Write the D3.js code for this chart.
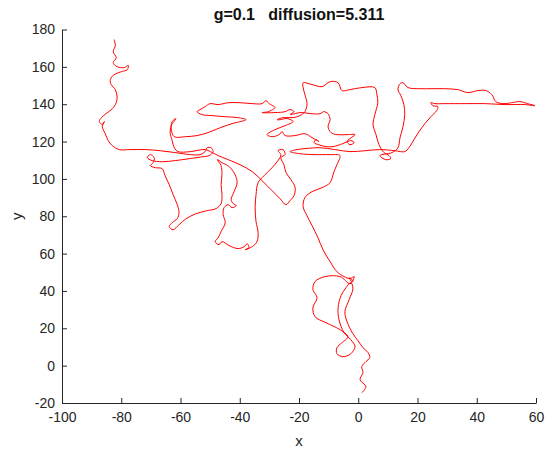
<!DOCTYPE html>
<html>
<head>
<meta charset="utf-8">
<script src="https://cdn.jsdelivr.net/npm/d3@7"></script>
<style>
  html, body { margin: 0; padding: 0; background: #fff; }
  svg { display: block; font-family: "Liberation Sans", Arial, Helvetica, sans-serif; }
</style>
</head>
<body>
<svg id="chart" width="555" height="455"></svg>
<script>
// Labels and ticks
const chartTitle = "g=0.1   diffusion=5.311";
const xLabel = "x";
const yLabel = "y";
const xTicks = [-100, -80, -60, -40, -20, 0, 20, 40, 60];
const yTicks = [-20, 0, 20, 40, 60, 80, 100, 120, 140, 160, 180];

// Random-walk trajectory samples (x, y)
const walkX = [
  -82.4, -82.0, -82.7, -81.7, -82.7, -81.4, -79.0, -77.6, -78.0, -80.0, -82.4, -83.7, -83.4, -82.0, -81.4, -81.7,
  -83.0, -85.1, -86.7, -87.4, -86.4, -85.7, -86.4, -85.4, -84.4, -83.0, -80.7, -77.0, -71.9, -66.9, -61.8, -56.7,
  -53.4, -51.7, -51.0, -49.7, -49.0, -50.3, -52.4,
  -56.7, -61.8, -66.2, -69.6, -71.2, -70.2, -68.9, -69.2, -70.2, -68.5, -66.2, -65.2, -63.8, -62.5, -61.1, -60.5,
  -61.1, -62.8, -63.8, -62.5, -60.5, -58.1, -54.7, -51.0, -48.0, -46.3, -46.0, -46.3, -46.0, -46.3, -47.6, -46.0,
  -43.6, -41.6, -40.9, -41.9, -42.9, -42.2, -41.2, -42.6, -43.9, -45.3, -45.6, -44.9, -46.3, -47.3, -48.3, -47.0,
  -46.0, -43.6, -40.6, -38.5, -37.5, -36.9, -38.2, -35.8, -34.2, -33.8, -34.5, -34.8, -34.5, -33.8, -31.8, -29.1,
  -27.1, -26.1, -27.1, -25.4, -24.7, -26.1,
  -25.1, -24.4, -22.7, -21.3, -21.7, -23.0, -24.4, -26.4, -29.1, -32.5, -35.8, -39.9, -43.9, -47.3, -49.3,
  -51.7, -56.7, -60.8, -62.1, -62.8, -63.5, -63.1, -61.5, -62.8, -63.1, -62.1, -58.4, -54.4, -50.7, -46.6, -42.6,
  -37.9, -40.6, -44.9, -49.3, -52.7, -54.4, -53.4, -51.7, -50.0, -47.3, -43.9, -39.9, -35.8, -32.5, -31.1, -30.1,
  -28.1, -30.4, -32.5, -28.1, -24.7, -23.0, -21.7, -23.0, -19.7, -15.6, -12.9, -11.6, -10.2, -9.5, -10.2, -9.2,
  -7.2, -3.8, -1.1, -2.8, -3.8, -2.8, -1.4, -2.5, -5.2, -8.5, -10.9, -13.3, -14.9, -14.3, -13.3, -15.6,
  -18.0, -21.3, -24.7, -25.7, -26.7, -29.1, -30.8, -28.1, -24.7, -22.0, -24.0, -26.4, -27.4, -25.4, -22.0, -19.7,
  -18.0, -17.3, -18.0, -18.6, -18.6,
  -15.6, -12.2, -9.5, -6.8, -5.5, -2.8, 1.2, 5.6, 6.3, 6.6, 5.6, 5.0, 6.0, 7.0, 8.7, 10.4,
  11.0, 9.3, 7.3, 11.4, 13.4, 14.1, 15.1, 15.7, 15.4, 14.4, 13.4, 14.1, 15.1, 16.8, 20.8, 25.2,
  29.2, 33.6, 37.0, 40.4, 43.1, 45.1, 46.4, 48.8, 51.8, 54.5, 57.2, 59.6, 56.2, 49.5, 42.7, 36.0,
  29.2, 25.9, 24.5, 25.2, 26.9, 26.5, 24.5, 22.5, 20.5, 18.8, 17.1, 15.7,
  12.4, 7.3, 2.3, -2.8, -7.9, -12.9, -18.0, -20.7, -23.0, -19.7, -14.6, -9.5, -6.2, -7.2, -8.2, -9.5,
  -12.2, -15.6, -18.0, -18.6, -17.3, -15.6, -13.6, -11.9, -9.5, -7.2, -4.8, -2.8, -1.4, -2.1, -3.1, -1.8, -2.8,
  -6.2, -11.2, -14.6, -15.3, -13.9, -15.3, -14.6, -10.9, -6.2, -3.5, -5.5, -7.2, -7.2, -5.2, -2.5, -1.1,
  -2.5, -4.8, -6.5, -6.8, -5.8, -4.1, -2.5, -1.8, -3.1, -4.5, -3.8, -1.8, -0.1, 1.6, 3.3, 3.9,
  2.6, 1.2, 1.6, 0.6, 2.6, 1.2
];
const walkY = [
  174.6, 171.4, 168.1, 164.9, 162.3, 160.1, 159.6, 160.7, 158.5, 157.4, 155.8, 153.2, 150.5, 147.8, 144.0, 140.8,
  137.6, 135.0, 132.8, 130.7, 129.1, 130.7, 128.0, 124.2, 120.5, 117.8, 115.7, 115.7, 115.7, 115.1, 114.1, 113.0,
  113.0, 114.6, 116.7, 116.7, 114.6, 112.5, 111.9,
  110.9, 109.8, 109.2, 109.8, 111.4, 113.0, 111.4, 108.7, 107.1, 106.0, 105.5, 101.7, 96.9, 91.6, 86.2, 81.9,
  78.7, 76.6, 74.4, 72.8, 75.5, 78.7, 81.4, 83.0, 84.1, 86.8, 91.6, 96.9, 102.3, 107.1, 110.3, 108.7,
  106.6, 102.3, 98.0, 93.2, 88.9, 86.8, 85.7, 84.6, 86.2, 84.6, 80.9, 76.6, 71.8, 68.5, 66.4, 64.8,
  66.4, 64.3, 62.7, 63.7, 65.3, 63.2, 62.1, 63.7, 66.4, 71.2, 77.1, 84.6, 91.6, 98.0, 101.7, 106.0,
  109.8, 113.0, 115.1, 115.7, 113.0, 111.4,
  107.6, 103.4, 99.6, 95.3, 91.0, 88.4, 86.2, 89.4, 93.7, 99.1, 103.9, 107.6, 110.3, 112.5, 114.1,
  115.7, 114.6, 114.6, 116.7, 120.5, 124.8, 128.5, 132.3, 130.7, 126.4, 122.6, 122.6, 123.2, 124.8, 127.4, 129.6,
  131.7, 132.8, 133.3, 133.9, 134.4, 136.0, 137.1, 138.7, 140.3, 139.8, 140.8, 140.8, 140.3, 140.3, 141.9, 140.3,
  138.2, 136.0, 135.5, 135.5, 136.0, 137.1, 136.0, 134.4, 135.5, 134.9, 134.9, 136.0, 134.9, 131.7, 128.0, 124.8,
  123.7, 123.7, 123.7, 121.6, 120.0, 118.3, 119.4, 120.5, 118.9, 117.3, 117.3, 118.3, 119.4, 121.0, 120.0, 122.1,
  124.2, 123.2, 123.2, 125.3, 123.7, 122.6, 123.7, 126.4, 128.5, 130.7, 132.3, 131.7, 131.7, 132.8, 132.8, 133.9,
  136.0, 140.3, 145.1, 148.9, 151.5,
  150.5, 149.4, 152.1, 151.5, 147.3, 147.8, 148.9, 148.9, 145.1, 140.8, 134.4, 129.1, 123.7, 118.3, 114.1, 112.5,
  110.9, 110.3, 112.5, 114.1, 116.7, 122.1, 128.0, 134.4, 139.8, 144.6, 147.8, 151.0, 151.5, 148.9, 148.3, 148.3,
  148.3, 147.8, 146.2, 147.3, 147.3, 145.1, 141.4, 140.3, 140.8, 141.4, 140.3, 139.2, 139.8, 139.8, 140.3, 140.3,
  140.3, 140.3, 140.8, 139.2, 138.7, 136.6, 133.3, 129.6, 125.3, 121.0, 116.7, 114.6,
  115.1, 115.7, 115.1, 114.6, 115.7, 116.7, 116.2, 115.7, 114.6, 113.5, 113.0, 113.0, 112.5, 107.6, 103.9, 98.0,
  95.3, 93.2, 90.0, 85.1, 80.3, 75.0, 68.5, 62.1, 55.7, 50.3, 47.7, 46.6, 47.7, 45.0, 47.1, 45.5, 43.9,
  47.7, 47.7, 45.0, 40.7, 36.4, 31.1, 26.2, 23.0, 19.3, 15.5, 12.3, 9.6, 6.4, 4.8, 6.4, 10.2,
  13.9, 17.7, 24.6, 31.1, 37.5, 41.8, 44.5, 41.2, 35.3, 28.9, 23.6, 17.1, 13.4, 9.6, 7.0, 4.3,
  2.2, -0.5, -3.7, -7.5, -11.2, -14.5
];

const svg = d3.select("#chart");
const axisColor = "#262626";
const fontFamily = '"Liberation Sans", Arial, Helvetica, sans-serif';

const x = d3.scaleLinear().domain([-100, 60]).range([62, 536]);
const y = d3.scaleLinear().domain([-20, 180]).range([403, 29.5]);

const points = walkX.map((v, i) => [v, walkY[i]]);

// Trajectory
svg.append("path")
  .datum(points)
  .attr("fill", "none")
  .attr("stroke", "#ff0000")
  .attr("stroke-width", 1)
  .attr("stroke-linejoin", "round")
  .attr("d", d3.line()
    .x(d => x(d[0]))
    .y(d => y(d[1]))
    .curve(d3.curveCatmullRom.alpha(0.5)));

// Axes: ticks point inward, no outer ticks, plain hyphen for negatives
const plain = d => String(d);
const xAxis = svg.append("g")
  .attr("transform", "translate(0,403)")
  .call(d3.axisBottom(x).tickValues(xTicks).tickFormat(plain)
    .tickSizeInner(-5).tickSizeOuter(0).tickPadding(9));
const yAxis = svg.append("g")
  .attr("transform", "translate(62,0)")
  .call(d3.axisLeft(y).tickValues(yTicks).tickFormat(plain)
    .tickSizeInner(-5).tickSizeOuter(0).tickPadding(7));

[xAxis, yAxis].forEach(g => {
  g.attr("font-family", fontFamily).attr("font-size", 14);
  g.select(".domain").attr("stroke", axisColor).attr("stroke-width", 1);
  g.selectAll(".tick line").attr("stroke", axisColor);
  g.selectAll(".tick text").attr("fill", axisColor);
});

// Title and axis labels
svg.append("text")
  .attr("x", x(-20))
  .attr("y", 20)
  .attr("text-anchor", "middle")
  .attr("font-family", fontFamily)
  .attr("font-size", 16)
  .attr("font-weight", "bold")
  .attr("fill", "#111")
  .style("white-space", "pre")
  .text(chartTitle);

svg.append("text")
  .attr("x", x(-20))
  .attr("y", 446)
  .attr("text-anchor", "middle")
  .attr("font-family", fontFamily)
  .attr("font-size", 15)
  .attr("fill", axisColor)
  .text(xLabel);

svg.append("text")
  .attr("transform", "translate(22," + y(80) + ") rotate(-90)")
  .attr("text-anchor", "middle")
  .attr("font-family", fontFamily)
  .attr("font-size", 15)
  .attr("fill", axisColor)
  .text(yLabel);
</script>
</body>
</html>
